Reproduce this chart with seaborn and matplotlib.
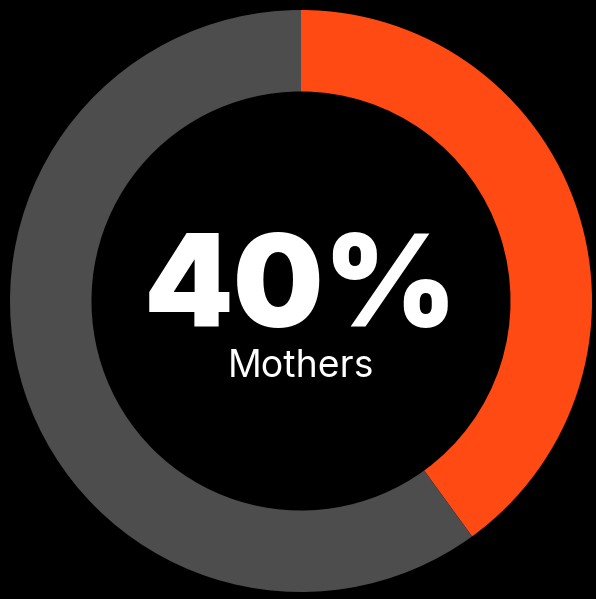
import matplotlib
matplotlib.use("Agg")
import matplotlib.pyplot as plt
import seaborn as sns

labels = ["Mothers", "Other"]
values = [40, 60]
colors = ["#FF4A14", "#4D4D4D"]
center_value = "40%"
center_label = "Mothers"

sns.set_theme(style="white")
plt.rcParams['font.family'] = ['Inter', 'DejaVu Sans']

fig = plt.figure(figsize=(5.96, 5.99), dpi=100, facecolor="black")
ax = fig.add_axes([10/596, 7/599, 582/596, 582/599])
ax.set_facecolor("black")
ax.pie(values, colors=colors, startangle=90, counterclock=False, radius=1,
       wedgeprops=dict(width=0.28, edgecolor="none", linewidth=0))
ax.set_xlim(-1, 1)
ax.set_ylim(-1, 1)
ax.set_aspect("equal")
ax.axis("off")

ax.text(0, -0.09, center_value, ha="center", va="baseline", color="white",
        fontsize=92, fontweight="black")
ax.text(0, -0.26, center_label, ha="center", va="baseline", color="white",
        fontsize=27)

fig.savefig("out.png", dpi=100, facecolor="black")
